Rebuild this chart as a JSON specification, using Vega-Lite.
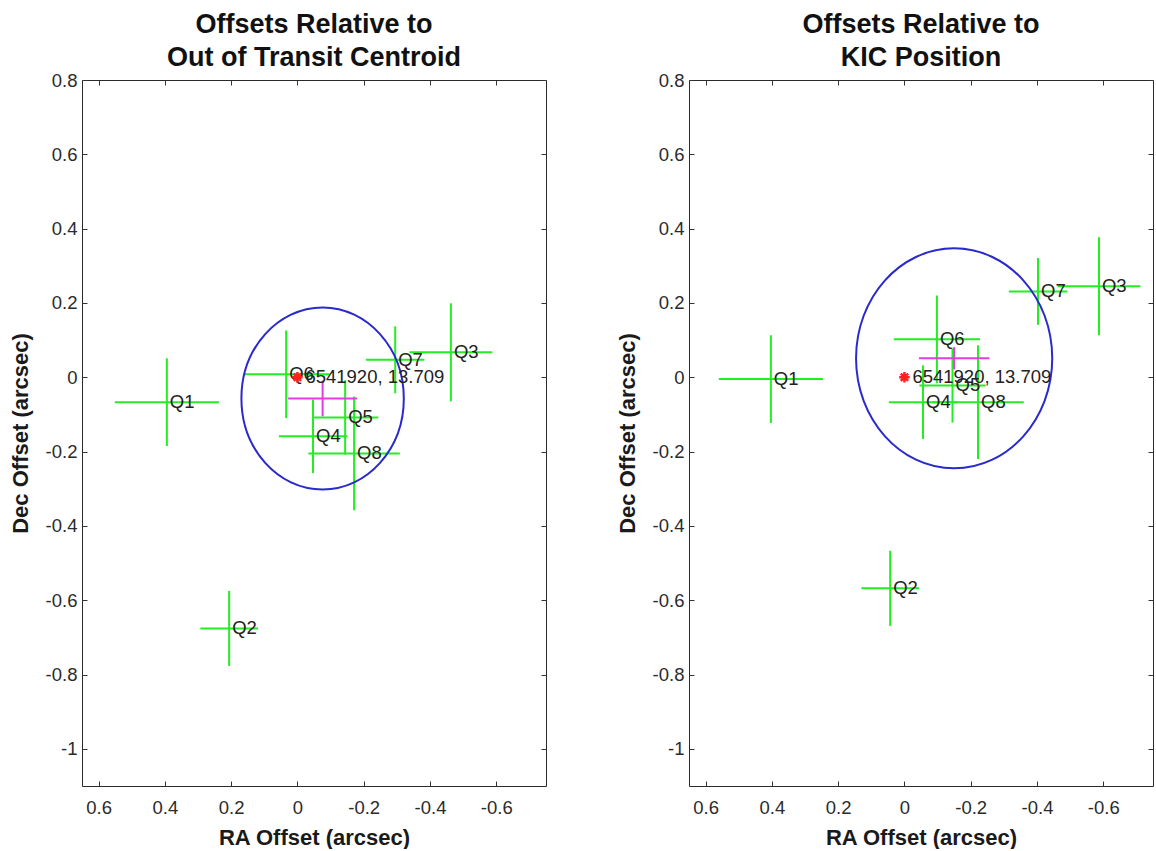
{
  "$schema": "https://vega.github.io/schema/vega-lite/v6.json",
  "background": "white",
  "padding": {"left": 8, "top": 10, "right": 0, "bottom": 0},
  "spacing": 68,
  "datasets": {
    "offsets": [
      {"panel": "centroid", "kind": "quarter", "label": "Q1", "ra": 0.394, "dec": -0.067, "ra_err": 0.157, "dec_err": 0.118},
      {"panel": "centroid", "kind": "quarter", "label": "Q2", "ra": 0.206, "dec": -0.676, "ra_err": 0.087, "dec_err": 0.101},
      {"panel": "centroid", "kind": "quarter", "label": "Q3", "ra": -0.463, "dec": 0.067, "ra_err": 0.125, "dec_err": 0.132},
      {"panel": "centroid", "kind": "quarter", "label": "Q4", "ra": -0.047, "dec": -0.159, "ra_err": 0.103, "dec_err": 0.099},
      {"panel": "centroid", "kind": "quarter", "label": "Q5", "ra": -0.144, "dec": -0.108, "ra_err": 0.1, "dec_err": 0.1},
      {"panel": "centroid", "kind": "quarter", "label": "Q6", "ra": 0.034, "dec": 0.008, "ra_err": 0.13, "dec_err": 0.118},
      {"panel": "centroid", "kind": "quarter", "label": "Q7", "ra": -0.295, "dec": 0.047, "ra_err": 0.088, "dec_err": 0.09},
      {"panel": "centroid", "kind": "quarter", "label": "Q8", "ra": -0.171, "dec": -0.205, "ra_err": 0.138, "dec_err": 0.153},
      {"panel": "centroid", "kind": "mean", "label": "mean", "ra": -0.076, "dec": -0.057, "ra_err": 0.104, "dec_err": 0.048, "radius": 0.245},
      {"panel": "centroid", "kind": "kic", "label": "6541920, 13.709", "ra": 0, "dec": 0},
      {"panel": "kic", "kind": "quarter", "label": "Q1", "ra": 0.403, "dec": -0.005, "ra_err": 0.157, "dec_err": 0.118},
      {"panel": "kic", "kind": "quarter", "label": "Q2", "ra": 0.043, "dec": -0.568, "ra_err": 0.087, "dec_err": 0.101},
      {"panel": "kic", "kind": "quarter", "label": "Q3", "ra": -0.587, "dec": 0.245, "ra_err": 0.125, "dec_err": 0.132},
      {"panel": "kic", "kind": "quarter", "label": "Q4", "ra": -0.056, "dec": -0.067, "ra_err": 0.103, "dec_err": 0.099},
      {"panel": "kic", "kind": "quarter", "label": "Q5", "ra": -0.145, "dec": -0.022, "ra_err": 0.1, "dec_err": 0.1},
      {"panel": "kic", "kind": "quarter", "label": "Q6", "ra": -0.098, "dec": 0.102, "ra_err": 0.13, "dec_err": 0.118},
      {"panel": "kic", "kind": "quarter", "label": "Q7", "ra": -0.403, "dec": 0.231, "ra_err": 0.088, "dec_err": 0.09},
      {"panel": "kic", "kind": "quarter", "label": "Q8", "ra": -0.222, "dec": -0.067, "ra_err": 0.138, "dec_err": 0.153},
      {"panel": "kic", "kind": "mean", "label": "mean", "ra": -0.15, "dec": 0.051, "ra_err": 0.106, "dec_err": 0.03, "radius": 0.296},
      {"panel": "kic", "kind": "kic", "label": "6541920, 13.709", "ra": 0, "dec": 0}
    ]
  },
  "hconcat": [
    {
      "width": 464,
      "height": 706,
      "title": {"text": ["Offsets Relative to", "Out of Transit Centroid"]},
      "data": {"name": "offsets"},
      "transform": [{"filter": "datum.panel === 'centroid'"}],
      "layer": [
        {
          "encoding": {
            "x": {"field": "ra", "type": "quantitative",
                  "scale": {"domain": [-0.75, 0.65], "reverse": true, "nice": false, "zero": false},
                  "axis": {"title": "RA Offset (arcsec)", "values": [0.6, 0.4, 0.2, 0, -0.2, -0.4, -0.6], "format": "~g", "labelExpr": "replace(datum.label, '\u2212', '-')"}},
            "y": {"field": "dec", "type": "quantitative",
                  "scale": {"domain": [-1.1, 0.8], "nice": false, "zero": false},
                  "axis": {"title": "Dec Offset (arcsec)", "values": [0.8, 0.6, 0.4, 0.2, 0, -0.2, -0.4, -0.6, -0.8, -1], "format": "~g", "labelExpr": "replace(datum.label, '\u2212', '-')"}}
          },
          "layer": [
            {"transform": [{"filter": "datum.kind === 'quarter'"}],
             "mark": {"type": "errorbar", "color": "#22ee22", "thickness": 2},
             "encoding": {"xError": {"field": "ra_err"}}},
            {"transform": [{"filter": "datum.kind === 'quarter'"}],
             "mark": {"type": "errorbar", "color": "#22ee22", "thickness": 2},
             "encoding": {"yError": {"field": "dec_err"}}},
            {"transform": [{"filter": "datum.kind === 'quarter'"}],
             "mark": {"type": "text", "align": "left", "baseline": "middle", "dx": 3, "fontSize": 18.5, "color": "#222222"},
             "encoding": {"text": {"field": "label"}}},
            {"transform": [{"filter": "datum.kind === 'mean'"}],
             "mark": {"type": "errorbar", "color": "#e23de2", "thickness": 2},
             "encoding": {"xError": {"field": "ra_err"}}},
            {"transform": [{"filter": "datum.kind === 'mean'"}],
             "mark": {"type": "errorbar", "color": "#e23de2", "thickness": 2},
             "encoding": {"yError": {"field": "dec_err"}}},
            {"transform": [{"filter": "datum.kind === 'mean'"}],
             "mark": {"type": "point", "filled": false, "color": "#2a2acc", "strokeWidth": 2, "opacity": 1,
                      "shape": "M1,0C1,0.619 0.552,1.121 0,1.121C-0.552,1.121 -1,0.619 -1,0C-1,-0.619 -0.552,-1.121 0,-1.121C0.552,-1.121 1,-0.619 1,0Z"},
             "encoding": {"size": {"field": "radius", "type": "quantitative", "legend": null,
                                   "scale": {"type": "pow", "exponent": 2, "domain": [0, 1], "range": [0, 439383]}}}},
            {"transform": [{"filter": "datum.kind === 'kic'"}],
             "mark": {"type": "point", "filled": false, "color": "#ff2020", "strokeWidth": 2.5, "opacity": 1, "size": 110,
                      "shape": "M-1,0L1,0M0,-1L0,1M-0.7,-0.7L0.7,0.7M-0.7,0.7L0.7,-0.7"}},
            {"transform": [{"filter": "datum.kind === 'kic'"}],
             "mark": {"type": "text", "align": "left", "baseline": "middle", "dx": 8, "fontSize": 18.5, "color": "#222222"},
             "encoding": {"text": {"field": "label"}}}
          ]
        },
        {
          "transform": [{"filter": "datum.kind === 'kic'"}],
          "mark": {"type": "point", "opacity": 0},
          "encoding": {
            "x": {"field": "ra", "type": "quantitative",
                  "axis": {"orient": "top", "labels": false, "title": null, "values": [0.6, 0.4, 0.2, 0, -0.2, -0.4, -0.6]}},
            "y": {"field": "dec", "type": "quantitative",
                  "axis": {"orient": "right", "labels": false, "title": null, "values": [0.8, 0.6, 0.4, 0.2, 0, -0.2, -0.4, -0.6, -0.8, -1]}}
          }
        }
      ],
      "resolve": {"axis": {"x": "independent", "y": "independent"}}
    },
    {
      "width": 464,
      "height": 706,
      "title": {"text": ["Offsets Relative to", "KIC Position"]},
      "data": {"name": "offsets"},
      "transform": [{"filter": "datum.panel === 'kic'"}],
      "layer": [
        {
          "encoding": {
            "x": {"field": "ra", "type": "quantitative",
                  "scale": {"domain": [-0.75, 0.65], "reverse": true, "nice": false, "zero": false},
                  "axis": {"title": "RA Offset (arcsec)", "values": [0.6, 0.4, 0.2, 0, -0.2, -0.4, -0.6], "format": "~g", "labelExpr": "replace(datum.label, '\u2212', '-')"}},
            "y": {"field": "dec", "type": "quantitative",
                  "scale": {"domain": [-1.1, 0.8], "nice": false, "zero": false},
                  "axis": {"title": "Dec Offset (arcsec)", "values": [0.8, 0.6, 0.4, 0.2, 0, -0.2, -0.4, -0.6, -0.8, -1], "format": "~g", "labelExpr": "replace(datum.label, '\u2212', '-')"}}
          },
          "layer": [
            {"transform": [{"filter": "datum.kind === 'quarter'"}],
             "mark": {"type": "errorbar", "color": "#22ee22", "thickness": 2},
             "encoding": {"xError": {"field": "ra_err"}}},
            {"transform": [{"filter": "datum.kind === 'quarter'"}],
             "mark": {"type": "errorbar", "color": "#22ee22", "thickness": 2},
             "encoding": {"yError": {"field": "dec_err"}}},
            {"transform": [{"filter": "datum.kind === 'quarter'"}],
             "mark": {"type": "text", "align": "left", "baseline": "middle", "dx": 3, "fontSize": 18.5, "color": "#222222"},
             "encoding": {"text": {"field": "label"}}},
            {"transform": [{"filter": "datum.kind === 'mean'"}],
             "mark": {"type": "errorbar", "color": "#e23de2", "thickness": 2},
             "encoding": {"xError": {"field": "ra_err"}}},
            {"transform": [{"filter": "datum.kind === 'mean'"}],
             "mark": {"type": "errorbar", "color": "#e23de2", "thickness": 2},
             "encoding": {"yError": {"field": "dec_err"}}},
            {"transform": [{"filter": "datum.kind === 'mean'"}],
             "mark": {"type": "point", "filled": false, "color": "#2a2acc", "strokeWidth": 2, "opacity": 1,
                      "shape": "M1,0C1,0.619 0.552,1.121 0,1.121C-0.552,1.121 -1,0.619 -1,0C-1,-0.619 -0.552,-1.121 0,-1.121C0.552,-1.121 1,-0.619 1,0Z"},
             "encoding": {"size": {"field": "radius", "type": "quantitative", "legend": null,
                                   "scale": {"type": "pow", "exponent": 2, "domain": [0, 1], "range": [0, 439383]}}}},
            {"transform": [{"filter": "datum.kind === 'kic'"}],
             "mark": {"type": "point", "filled": false, "color": "#ff2020", "strokeWidth": 2.5, "opacity": 1, "size": 110,
                      "shape": "M-1,0L1,0M0,-1L0,1M-0.7,-0.7L0.7,0.7M-0.7,0.7L0.7,-0.7"}},
            {"transform": [{"filter": "datum.kind === 'kic'"}],
             "mark": {"type": "text", "align": "left", "baseline": "middle", "dx": 8, "fontSize": 18.5, "color": "#222222"},
             "encoding": {"text": {"field": "label"}}}
          ]
        },
        {
          "transform": [{"filter": "datum.kind === 'kic'"}],
          "mark": {"type": "point", "opacity": 0},
          "encoding": {
            "x": {"field": "ra", "type": "quantitative",
                  "axis": {"orient": "top", "labels": false, "title": null, "values": [0.6, 0.4, 0.2, 0, -0.2, -0.4, -0.6]}},
            "y": {"field": "dec", "type": "quantitative",
                  "axis": {"orient": "right", "labels": false, "title": null, "values": [0.8, 0.6, 0.4, 0.2, 0, -0.2, -0.4, -0.6, -0.8, -1]}}
          }
        }
      ],
      "resolve": {"axis": {"x": "independent", "y": "independent"}}
    }
  ],
  "config": {
    "font": "Liberation Sans",
    "view": {"stroke": "#2a2a2a", "strokeWidth": 1},
    "title": {"font": "Liberation Sans", "fontSize": 27, "fontWeight": "bold", "lineHeight": 33, "color": "#111111", "anchor": "middle", "baseline": "bottom", "offset": -1},
    "axis": {
      "labelFont": "Liberation Sans", "labelFontSize": 18.5, "labelColor": "#2b2b2b", "labelFlush": false, "labelOverlap": false,
      "titleFont": "Liberation Sans", "titleFontSize": 22, "titleFontWeight": "bold", "titleColor": "#1a1a1a",
      "tickColor": "#333333", "tickSize": -5, "domain": false, "grid": false
    },
    "axisX": {"labelPadding": 17, "titlePadding": 11},
    "axisY": {"labelPadding": 10, "titlePadding": 13}
  }
}
